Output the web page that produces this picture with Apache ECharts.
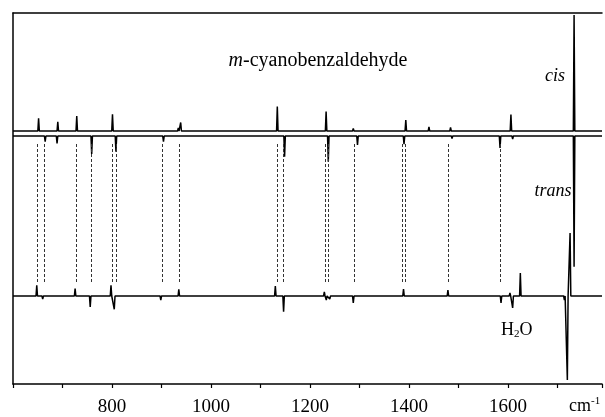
<!DOCTYPE html>
<html>
<head>
<meta charset="utf-8">
<script src="https://cdn.jsdelivr.net/npm/echarts@6/dist/echarts.min.js"></script>
<style>
html,body{margin:0;padding:0;background:#fff;}
#chart{width:605px;height:417px;}
</style>
</head>
<body>
<div id="chart"></div>
<script>
// ---- data (wavenumbers in cm-1, intensities in arbitrary units) ----
const xTickLabels = [800, 1000, 1200, 1400, 1600];

const cisPeaks   = [651.7, 690.5, 728.8, 801, 934, 938.8, 1099.8, 1134, 1232.6, 1287.5, 1331, 1393.6, 1440.4, 1484, 1592.7, 1606, 1733.6];
const cisHeights = [12.7, 9.3, 15, 16.7, 3, 8.5, 2, 24.5, 19.5, 2.5, 1.5, 11, 4, 3.5, 2, 16.5, 116];

const transPeaks   = [665, 689, 759, 808, 904, 1091.7, 1148.7, 1237, 1296, 1390, 1487, 1584, 1609.5, 1733.6];
const transHeights = [-5.7, -7.3, -18, -15.7, -5.7, -2, -20.7, -25.7, -9, -8.3, -2.5, -12, -3, -130.7];

const diffPeaks   = [648, 660, 682, 725.5, 756, 798, 804.6, 898.6, 925, 935, 1130, 1146.7, 1229, 1233, 1240, 1287.5, 1389, 1440, 1478.7, 1586, 1604, 1609.5, 1625, 1714, 1720, 1725.5];
const diffHeights = [10.7, -3, 2, 7.3, -11, 10.7, -13.3, -4, 2, 6.7, 10, -15.7, 4, -4, -3, -7, 7, 2, 6, -7, 3, -12, 23, -4, -84, 63];

const linkPositions = [648.3, 663.8, 727.6, 757.7, 800, 809.3, 901.8, 936.8, 1133.2, 1145.3, 1230.6, 1237.2, 1289.6, 1386.7, 1392.8, 1478.7, 1583.9];

// ---- layout constants ----
const X_MIN = 600, X_MAX = 1790;
const CIS_BASE = 253, TRANS_BASE = 248, DIFF_BASE = 88;
const DASH_TOP = 240, DASH_BOTTOM = 101;
const HALF_WIDTH = 1.5;
const SERIF = '"Liberation Serif", "Times New Roman", serif';

function buildSpectrum(pos, amp, base) {
  const order = pos.map((p, i) => i).sort((a, b) => pos[a] - pos[b]);
  const pts = [[X_MIN, base]];
  order.forEach(i => {
    pts.push([pos[i] - HALF_WIDTH, base]);
    pts.push([pos[i], base + amp[i]]);
    pts.push([pos[i] + HALF_WIDTH, base]);
  });
  pts.push([X_MAX, base]);
  return pts;
}

const lineStyle = { color: '#000', width: 1.5 };

function spectrumSeries(name, pos, amp, base, extra) {
  return Object.assign({
    name: name,
    type: 'line',
    data: buildSpectrum(pos, amp, base),
    showSymbol: false,
    symbol: 'none',
    lineStyle: lineStyle,
    silent: true,
    animation: false,
    z: 3
  }, extra || {});
}

const chart = echarts.init(document.getElementById('chart'), null, { renderer: 'canvas' });

chart.setOption({
  backgroundColor: '#fff',
  animation: false,
  grid: { left: 13, right: 0, top: 13, bottom: 33 },
  xAxis: [{
    type: 'value',
    min: X_MIN,
    max: X_MAX,
    interval: 100,
    position: 'bottom',
    axisLine: { show: true, onZero: false, lineStyle: { color: '#000', width: 1.5 } },
    axisTick: { show: true, inside: false, length: 4, lineStyle: { color: '#000', width: 1.2 } },
    axisLabel: {
      show: true,
      margin: 14,
      color: '#000',
      fontFamily: SERIF,
      fontSize: 19,
      formatter: v => (xTickLabels.indexOf(v) >= 0 ? String(v) : '')
    },
    splitLine: { show: false }
  }, {
    type: 'value',
    min: X_MIN,
    max: X_MAX,
    position: 'top',
    axisLine: { show: true, onZero: false, lineStyle: { color: '#000', width: 1.5 } },
    axisTick: { show: false },
    axisLabel: { show: false },
    splitLine: { show: false }
  }],
  yAxis: {
    type: 'value',
    min: 0,
    max: 371,
    axisLine: { show: true, onZero: false, lineStyle: { color: '#000', width: 1.5 } },
    axisTick: { show: false },
    axisLabel: { show: false },
    splitLine: { show: false }
  },
  series: [
    spectrumSeries('cis', cisPeaks, cisHeights, CIS_BASE),
    spectrumSeries('trans', transPeaks, transHeights, TRANS_BASE),
    spectrumSeries('difference', diffPeaks, diffHeights, DIFF_BASE, {
      markLine: {
        silent: true,
        animation: false,
        symbol: ['none', 'none'],
        label: { show: false },
        lineStyle: { color: '#333', width: 1, type: [3, 2] },
        data: linkPositions.map(x => [{ coord: [x, DASH_TOP] }, { coord: [x, DASH_BOTTOM] }])
      }
    })
  ],
  graphic: [
    {
      type: 'text', silent: true,
      style: {
        x: 318, y: 61, text: '{i|m}{n|-cyanobenzaldehyde}',
        textAlign: 'center', textVerticalAlign: 'middle', fill: '#000',
        rich: {
          i: { fontFamily: SERIF, fontSize: 20, fontStyle: 'italic', fill: '#000' },
          n: { fontFamily: SERIF, fontSize: 20, fill: '#000' }
        }
      }
    },
    {
      type: 'text', silent: true,
      style: { x: 555, y: 76, text: 'cis', textAlign: 'center', textVerticalAlign: 'middle',
        fill: '#000', font: 'italic 18px ' + SERIF }
    },
    {
      type: 'text', silent: true,
      style: { x: 553, y: 191, text: 'trans', textAlign: 'center', textVerticalAlign: 'middle',
        fill: '#000', font: 'italic 18px ' + SERIF }
    },
    {
      type: 'text', silent: true,
      style: {
        x: 501, y: 330, text: '{n|H}{s|2}{n|O}',
        textAlign: 'left', textVerticalAlign: 'middle', fill: '#000',
        rich: {
          n: { fontFamily: SERIF, fontSize: 18, fill: '#000' },
          s: { fontFamily: SERIF, fontSize: 11, fill: '#000', padding: [8, 0, 0, 0] }
        }
      }
    },
    {
      type: 'text', silent: true,
      style: {
        x: 569, y: 406, text: '{n|cm}{s|-1}',
        textAlign: 'left', textVerticalAlign: 'middle', fill: '#000',
        rich: {
          n: { fontFamily: SERIF, fontSize: 18, fill: '#000' },
          s: { fontFamily: SERIF, fontSize: 11, fill: '#000', padding: [0, 0, 9, 0] }
        }
      }
    }
  ]
});
</script>
</body>
</html>
